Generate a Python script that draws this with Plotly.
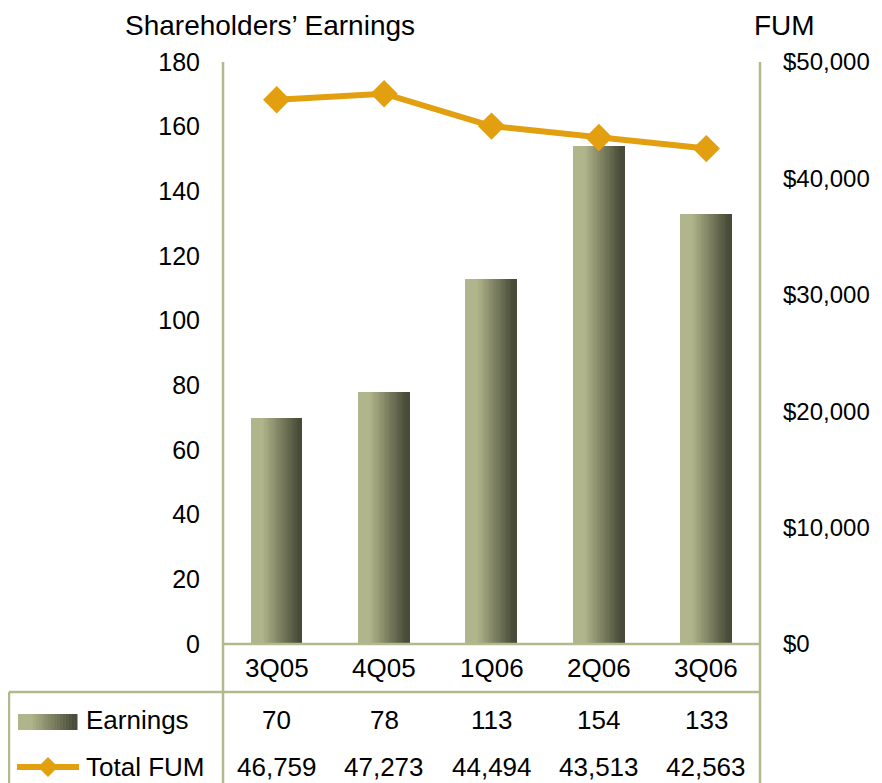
import plotly.graph_objects as go

# ---- data ----
quarters = ["3Q05", "4Q05", "1Q06", "2Q06", "3Q06"]
earnings = [70, 78, 113, 154, 133]
total_fum = [46759, 47273, 44494, 43513, 42563]
earn_ticks = [0, 20, 40, 60, 80, 100, 120, 140, 160, 180]
fum_ticks = [0, 10000, 20000, 30000, 40000, 50000]
fum_ticklabels = ["$" + f"{v:,}" for v in fum_ticks]

W, H = 882, 783
OFF = 8  # page body margin offset
def X(px): return (px - OFF) / W
def Y(py): return 1 - (py - OFF) / H

LIGHT = (177, 181, 139)
DARK = (72, 75, 55)
def grad(t):
    s = min(max((t - 0.22) / 0.72, 0), 1)
    c = [round(LIGHT[k] + (DARK[k] - LIGHT[k]) * s) for k in range(3)]
    return f"rgb({c[0]},{c[1]},{c[2]})"

LINE_COL = "#E29F10"
GRID_COL = "#B4B88F"
FONT = "Liberation Sans, Arial, sans-serif"

fig = go.Figure()
xs = list(range(len(quarters)))
bw = 0.475
N = 30
for i in range(N):
    t = (i + 0.5) / N
    fig.add_trace(go.Bar(
        x=xs, y=earnings, width=[bw / N * 1.15] * len(xs),
        offset=-bw / 2 + i * bw / N,
        marker=dict(color=grad(t), line=dict(width=0)),
        showlegend=False, hoverinfo="skip", yaxis="y"))

fig.add_trace(go.Scatter(
    x=xs, y=total_fum, mode="lines+markers", yaxis="y2",
    line=dict(color=LINE_COL, width=6),
    marker=dict(symbol="diamond", size=21, color=LINE_COL),
    showlegend=False))

shapes = []
def line(x0, y0, x1, y1):
    shapes.append(dict(type="line", xref="paper", yref="paper",
                       x0=X(x0), y0=Y(y0), x1=X(x1), y1=Y(y1),
                       line=dict(color=GRID_COL, width=2.5)))
line(223, 62, 223, 800)
line(760, 62, 760, 800)
line(223, 644, 760, 644)
line(9, 692, 760, 692)
line(9, 692, 9, 800)

# legend key: gradient rectangle
K = 20
kx0, kx1 = 18, 77
for i in range(K):
    a = kx0 + (kx1 - kx0) * i / K
    b = kx0 + (kx1 - kx0) * (i + 1) / K + 0.5
    shapes.append(dict(type="rect", xref="paper", yref="paper",
                       x0=X(a), x1=X(b), y0=Y(730), y1=Y(714),
                       line=dict(width=0), fillcolor=grad((i + 0.5) / K)))
# legend key: line with diamond
shapes.append(dict(type="line", xref="paper", yref="paper",
                   x0=X(17), x1=X(79), y0=Y(767), y1=Y(767),
                   line=dict(color=LINE_COL, width=6)))
cx, cy, r = 48, 767, 10
shapes.append(dict(type="path", xref="paper", yref="paper",
                   path=f"M {X(cx-r)} {Y(cy)} L {X(cx)} {Y(cy-r)} L {X(cx+r)} {Y(cy)} L {X(cx)} {Y(cy+r)} Z",
                   line=dict(width=0), fillcolor=LINE_COL))

ann = []
fs = 26
def txt(x, y, text, xref="paper", xanchor="center", size=fs):
    ann.append(dict(x=x, xref=xref, y=y, yref="paper", text=text, showarrow=False,
                    xanchor=xanchor, yanchor="middle",
                    font=dict(size=size, color="black", family=FONT)))
for i, q in enumerate(quarters):
    txt(i, Y(668), q, xref="x")
    txt(i, Y(720), f"{earnings[i]:,}", xref="x")
    txt(i, Y(767), f"{total_fum[i]:,}", xref="x")
txt(X(84), Y(720), "Earnings", xanchor="left")
txt(X(84), Y(767), "Total FUM", xanchor="left")
txt(X(123), Y(25), "Shareholders’ Earnings", xanchor="left", size=28)
txt(X(752), Y(25), "FUM", xanchor="left", size=28)

fig.update_layout(
    width=W, height=H, margin=dict(l=0, r=0, t=0, b=0),
    paper_bgcolor="white", plot_bgcolor="white",
    barmode="overlay", bargap=0,
    font=dict(family=FONT, size=fs, color="black"),
    xaxis=dict(domain=[X(223), X(760)], range=[-0.5, 4.5], showticklabels=False,
               showgrid=False, zeroline=False, showline=False, fixedrange=True,
               automargin=False),
    yaxis=dict(domain=[Y(644), Y(62)], range=[0, 180], tickvals=earn_ticks,
               showgrid=False, zeroline=False, showline=False, ticks="",
               automargin=False, ticklabelstandoff=22,
               tickfont=dict(size=25, color="black", family=FONT)),
    yaxis2=dict(overlaying="y", side="right", range=[0, 50000], tickvals=fum_ticks,
                ticktext=fum_ticklabels, showgrid=False, zeroline=False,
                showline=False, ticks="", automargin=False, ticklabelstandoff=22,
                tickfont=dict(size=24, color="black", family=FONT)),
    shapes=shapes, annotations=ann,
)
fig.write_html("out.html")
